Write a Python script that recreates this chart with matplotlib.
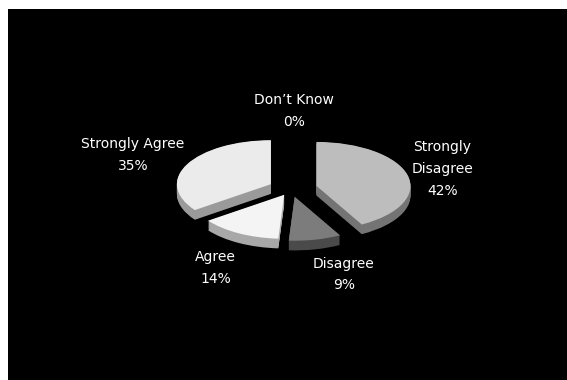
import matplotlib.pyplot as plt
import numpy as np

# survey answers, clockwise from 12 o'clock
labels = ['Strongly\nDisagree', 'Disagree', 'Agree', 'Strongly Agree', 'Don\u2019t Know']
values = [42, 9, 14, 35, 0]

# styling
explode = [0.28, 0.18, 0.15, 0.24, 0.0]
top_colors = ['#bdbdbd', '#7c7c7c', '#f4f4f4', '#ebebeb', '#ffffff']
side_colors = ['#747474', '#4a4a4a', '#a8a8a8', '#9a9a9a', '#ffffff']
label_pos = [(1.61, 0.45), (0.56, -1.94), (-0.80, -1.80), (-1.68, 0.78), (0.03, 1.77)]

W, H = 567, 380
fig = plt.figure(figsize=(W / 100, H / 100), dpi=100)
fig.patch.set_facecolor('white')
ax = fig.add_axes([8 / W, 0, (W - 8) / W, (H - 9) / H])

# pie center in pixels and radii (x, y) in pixels -> 1 data unit each way
cx, cy, rx, ry = 291, 189, 94, 44
thick = 0.22

# side of the 3d pie: stacked copies shifted downward
for t in np.linspace(thick, 0.01, 12):
    ax.pie(values, explode=explode, colors=side_colors, startangle=90,
           counterclock=False, center=(0, -t), frame=True,
           wedgeprops=dict(linewidth=0))
# top face
ax.pie(values, explode=explode, colors=top_colors, startangle=90,
       counterclock=False, center=(0, 0), frame=True,
       wedgeprops=dict(linewidth=0))

for lab, v, (x, y) in zip(labels, values, label_pos):
    ax.text(x, y, f'{lab}\n{v}%', ha='center', va='center', color='white',
            fontsize=10, linespacing=1.7, family='DejaVu Sans')

ax.set_aspect('auto')
ax.set_xlim((8 - cx) / rx, (W - cx) / rx)
ax.set_ylim(-(H - cy) / ry, (cy - 9) / ry)
ax.set_facecolor('black')
ax.set_xticks([])
ax.set_yticks([])
for s in ax.spines.values():
    s.set_visible(False)

fig.savefig('out.png', dpi=100, facecolor='white')
